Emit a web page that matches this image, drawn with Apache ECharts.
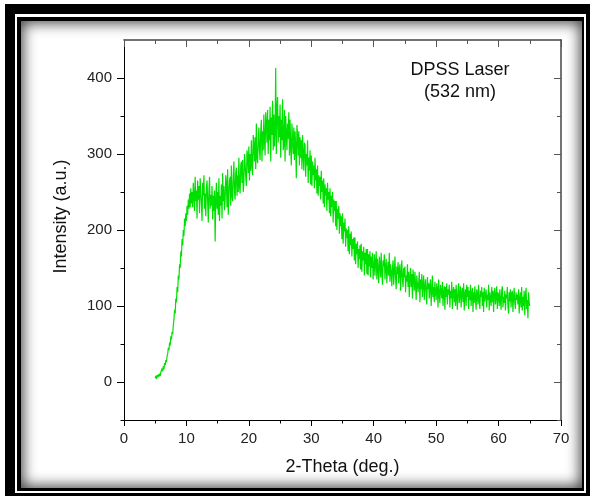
<!DOCTYPE html>
<html>
<head>
<meta charset="utf-8">
<script src="https://cdn.jsdelivr.net/npm/echarts@6/dist/echarts.min.js"></script>
<style>
  html, body { margin: 0; padding: 0; background: #fff; width: 592px; height: 501px; overflow: hidden; }
  #f1 { position: absolute; left: 5px; top: 4px; width: 585px; height: 492px; box-sizing: border-box;
        border-style: solid; border-color: #000; border-width: 10px 4px 3px 10px; }
  #f2 { position: absolute; left: 17px; top: 17px; width: 567px; height: 474px; box-sizing: border-box;
        border-style: solid; border-color: #000; border-width: 4px 2px 3px 4px;
        box-shadow: inset 0 0 14px 2px rgba(0,0,0,0.75); background: #fff; }
  #chart { position: absolute; left: 0; top: 0; width: 592px; height: 501px; }
</style>
</head>
<body>
<div id="f1"></div>
<div id="f2"></div>
<div id="chart"></div>
<script>
// 2-Theta sampling: start and step (degrees)
const thetaStart = 5.0;
const thetaStep = 0.1;

// Intensity values, one row per degree (5.0 ... 64.9), then 65.0
const intensity = [
  5, 8, 4, 9, 6, 10, 7, 11, 8, 13,
  12, 18, 14, 21, 17, 25, 22, 29, 26, 34,
  37, 45, 42, 52, 48, 60, 56, 66, 63, 75,
  82, 95, 90, 110, 105, 125, 118, 140, 135, 155,
  150, 172, 165, 188, 180, 200, 192, 215, 205, 222,
  212, 232, 220, 240, 228, 248, 230, 255, 235, 250,
  230, 262, 245, 225, 270, 238, 252, 215, 265, 240,
  258, 222, 268, 250, 235, 212, 262, 245, 272, 228,
  248, 218, 255, 265, 238, 210, 250, 270, 228, 246,
  232, 258, 214, 245, 225, 252, 185, 240, 262, 228,
  250, 220, 268, 212, 245, 232, 260, 215, 275, 238,
  258, 226, 240, 272, 262, 230, 280, 220, 245, 265,
  270, 232, 285, 245, 238, 268, 290, 250, 240, 275,
  282, 245, 272, 250, 295, 258, 248, 285, 290, 262,
  292, 250, 262, 300, 288, 270, 258, 305, 298, 275,
  310, 265, 300, 278, 318, 285, 272, 325, 312, 290,
  322, 280, 340, 295, 288, 315, 335, 305, 292, 330,
  345, 290, 330, 305, 352, 318, 298, 355, 340, 315,
  358, 300, 345, 318, 362, 290, 348, 325, 370, 305,
  352, 310, 328, 413, 300, 360, 375, 315, 350, 322,
  365, 295, 345, 318, 372, 305, 312, 358, 290, 350,
  350, 305, 340, 320, 355, 298, 345, 310, 285, 340,
  342, 300, 335, 292, 330, 310, 268, 338, 325, 298,
  330, 285, 322, 295, 318, 280, 325, 300, 278, 315,
  312, 270, 300, 285, 318, 262, 295, 278, 305, 260,
  298, 258, 290, 272, 285, 255, 295, 265, 280, 248,
  285, 245, 272, 258, 270, 240, 278, 250, 265, 235,
  268, 230, 260, 245, 255, 225, 262, 240, 250, 222,
  255, 218, 245, 230, 250, 210, 240, 225, 238, 205,
  238, 200, 228, 215, 232, 195, 222, 205, 218, 188,
  222, 182, 210, 198, 215, 178, 202, 190, 200, 172,
  205, 168, 195, 180, 198, 165, 188, 175, 190, 160,
  190, 155, 182, 168, 185, 150, 175, 162, 180, 148,
  182, 145, 172, 160, 178, 140, 170, 155, 175, 142,
  175, 140, 168, 152, 172, 138, 165, 150, 170, 135,
  150, 168, 140, 158, 172, 135, 162, 148, 130, 165,
  155, 138, 170, 145, 128, 160, 152, 168, 135, 150,
  162, 130, 148, 158, 140, 170, 132, 155, 145, 126,
  150, 160, 128, 145, 165, 138, 122, 152, 142, 158,
  130, 148, 155, 120, 142, 160, 135, 125, 150, 138,
  152, 118, 140, 132, 155, 125, 145, 112, 138, 150,
  125, 142, 110, 148, 135, 120, 145, 128, 108, 140,
  138, 118, 130, 145, 105, 135, 122, 142, 112, 128,
  140, 108, 125, 135, 118, 102, 138, 122, 130, 110,
  128, 135, 100, 120, 140, 112, 125, 105, 132, 118,
  108, 130, 122, 98, 135, 115, 104, 128, 120, 110,
  132, 100, 118, 126, 95, 125, 112, 130, 102, 122,
  115, 128, 98, 120, 110, 132, 96, 118, 125, 105,
  122, 100, 128, 112, 95, 120, 130, 104, 115, 126,
  98, 118, 124, 105, 130, 94, 115, 122, 100, 128,
  112, 125, 96, 120, 108, 128, 100, 116, 124, 92,
  118, 104, 126, 110, 95, 122, 115, 102, 128, 108,
  96, 120, 112, 125, 100, 118, 92, 124, 106, 115,
  122, 98, 115, 108, 128, 94, 118, 110, 100, 125,
  105, 120, 92, 116, 124, 102, 112, 126, 96, 118,
  114, 100, 122, 108, 95, 120, 126, 98, 112, 104,
  120, 94, 115, 110, 125, 100, 90, 118, 106, 122,
  98, 116, 120, 92, 112, 124, 104, 96, 118, 108,
  115, 102, 122, 90, 110, 118, 98, 125, 94, 112,
  100, 120, 88, 112, 124, 96, 108, 84, 118, 104,
  100
];

const yLabelValues = [0, 100, 200, 300, 400];
const yMinorValues = [-50, 50, 150, 250, 350];
const annotationLines = ['DPSS Laser', '(532 nm)'];

const FONT = 'Liberation Sans, Arial, sans-serif';
const seriesData = intensity.map((v, i) => [+(thetaStart + i * thetaStep).toFixed(2), v]);

const chart = echarts.init(document.getElementById('chart'), null, { renderer: 'canvas' });

const baseY = { type: 'value', min: -50, max: 450, splitLine: { show: false } };
const baseX = { type: 'value', min: 0, max: 70, interval: 10, splitLine: { show: false } };

chart.setOption({
  animation: false,
  grid: { left: 124, right: 31, top: 40, bottom: 81, containLabel: false, outerBoundsMode: 'none' },
  xAxis: [
    Object.assign({}, baseX, {
      position: 'bottom',
      axisLine: { onZero: false, lineStyle: { color: '#000', width: 1 } },
      axisTick: { inside: false, length: 6, lineStyle: { color: '#000' } },
      minorTick: { show: true, splitNumber: 2, length: 3.5, lineStyle: { color: '#000' } },
      axisLabel: { fontSize: 15, color: '#222', margin: 11, fontFamily: FONT },
      name: '2-Theta (deg.)', nameLocation: 'middle', nameGap: 38,
      nameTextStyle: { fontSize: 18, color: '#111', fontFamily: FONT }
    }),
    Object.assign({}, baseX, {
      position: 'top',
      axisLine: { onZero: false, lineStyle: { color: '#444', width: 1.5 } },
      axisTick: { inside: true, length: 7, lineStyle: { color: '#555' } },
      minorTick: { show: true, splitNumber: 2, length: 4, lineStyle: { color: '#555' } },
      axisLabel: { show: false }
    })
  ],
  yAxis: [
    Object.assign({}, baseY, {
      position: 'left',
      axisLine: { show: true, onZero: false, lineStyle: { color: '#000', width: 1 } },
      axisTick: { show: true, inside: false, length: 7, customValues: yLabelValues, lineStyle: { color: '#000' } },
      axisLabel: { fontSize: 15, color: '#222', margin: 12, fontFamily: FONT, customValues: yLabelValues },
      name: 'Intensity (a.u.)', nameLocation: 'middle', nameGap: 54, nameRotate: 90,
      nameTextStyle: { fontSize: 18, color: '#111', fontFamily: FONT, padding: [0, 0, 0, 27] }
    }),
    Object.assign({}, baseY, {
      position: 'left',
      axisLine: { show: false, onZero: false },
      axisTick: { show: true, inside: false, length: 3.5, customValues: yMinorValues, lineStyle: { color: '#000' } },
      axisLabel: { show: false }
    }),
    Object.assign({}, baseY, {
      position: 'right',
      axisLine: { show: true, onZero: false, lineStyle: { color: '#444', width: 1.5 } },
      axisTick: { show: true, inside: true, length: 7, customValues: yLabelValues, lineStyle: { color: '#555' } },
      axisLabel: { show: false }
    }),
    Object.assign({}, baseY, {
      position: 'right',
      axisLine: { show: false, onZero: false },
      axisTick: { show: true, inside: true, length: 4, customValues: yMinorValues, lineStyle: { color: '#555' } },
      axisLabel: { show: false }
    })
  ],
  graphic: annotationLines.map((t, i) => ({
    type: 'text', x: 460, y: 70 + i * 22, z: 10,
    style: { text: t, fontSize: 18, fontFamily: FONT, fill: '#111', align: 'center', verticalAlign: 'middle' }
  })),
  series: [{
    type: 'line',
    xAxisIndex: 0, yAxisIndex: 0,
    data: seriesData,
    showSymbol: false, symbol: 'none',
    sampling: null,
    lineStyle: { color: '#00e000', width: 1.2 },
    itemStyle: { color: '#00e000' },
    silent: true
  }]
});
</script>
</body>
</html>
